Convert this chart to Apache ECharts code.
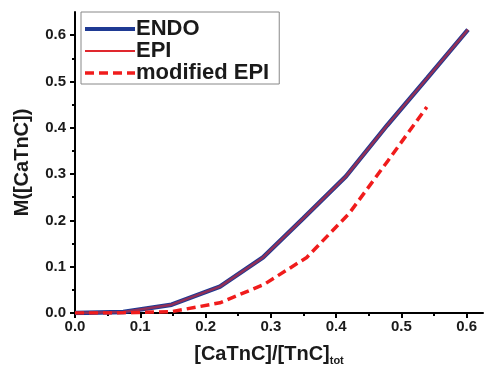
<!DOCTYPE html>
<html>
<head>
<meta charset="utf-8">
<script src="https://cdn.jsdelivr.net/npm/echarts@6/dist/echarts.min.js"></script>
<style>html,body{margin:0;padding:0;background:#fff;}#c{width:484px;height:373px;}</style>
</head>
<body>
<div id="c"></div>
<script>
// Data
var seriesNames = ['ENDO', 'EPI', 'modified EPI'];
var curveX = [0, 0.074, 0.148, 0.222, 0.288, 0.35, 0.415, 0.478, 0.54, 0.602];
var endoY  = [0, 0.002, 0.018, 0.057, 0.12, 0.205, 0.295, 0.405, 0.508, 0.612];
var epiY   = [0, 0.002, 0.018, 0.057, 0.12, 0.205, 0.295, 0.405, 0.508, 0.612];
var modX   = [0, 0.074, 0.148, 0.222, 0.29, 0.355, 0.42, 0.48, 0.539];
var modY   = [0, 0.0003, 0.003, 0.022, 0.062, 0.12, 0.215, 0.33, 0.445];
var xTicks = [0, 0.1, 0.2, 0.3, 0.4, 0.5, 0.6];
var xMinorTicks = [0.05, 0.15, 0.25, 0.35, 0.45, 0.55];
var yTicks = [0, 0.1, 0.2, 0.3, 0.4, 0.5, 0.6];
var yMinorTicks = [0.05, 0.15, 0.25, 0.35, 0.45, 0.55];
var xTitle = '[CaTnC]/[TnC]';
var xTitleSub = 'tot';
var yTitle = 'M([CaTnC])';

function pairs(xs, ys) { return xs.map(function (x, i) { return [x, ys[i]]; }); }

var FONT = 'Liberation Sans, Arial, sans-serif';
var TXT = '#1a1a1a';
var BLUE = '#1f3a93', RED = '#e0282e', DASH = '#f01c1c';

var chart = echarts.init(document.getElementById('c'), null, {renderer: 'canvas'});
var baseX = {
  type: 'value', min: 0, max: 0.625, gridIndex: 0, position: 'bottom',
  splitLine: {show: false}
};
var baseY = {
  type: 'value', min: 0, max: 0.65, gridIndex: 0, position: 'left',
  splitLine: {show: false}
};
chart.setOption({
  animation: false,
  backgroundColor: '#fff',
  grid: {left: 75, right: 1, top: 12, bottom: 60, containLabel: false, outerBoundsMode: 'none'},
  legend: {
    left: 81, top: 12, orient: 'vertical',
    padding: [6, 10, 0, 2], itemGap: 0, itemWidth: 50, itemHeight: 21,
    borderColor: '#888', borderWidth: 1, backgroundColor: '#fff',
    itemStyle: {opacity: 0},
    data: [
      {name: seriesNames[0], lineStyle: {color: BLUE, width: 4, opacity: 1}},
      {name: seriesNames[1], lineStyle: {color: RED, width: 2, opacity: 1}},
      {name: seriesNames[2], lineStyle: {color: DASH, width: 3.5, opacity: 1, type: [9, 5]}}
    ],
    textStyle: {fontSize: 22, fontWeight: 'bold', fontFamily: FONT, color: TXT, padding: [0, 0, 0, -4], lineHeight: 21}
  },
  xAxis: [
    Object.assign({}, baseX, {
      name: '{a|' + xTitle + '}{s|' + xTitleSub + '}',
      nameLocation: 'middle', nameGap: 30,
      nameTextStyle: {
        padding: [0, 20, 0, 0],
        rich: {
          a: {fontSize: 20, fontWeight: 'bold', fontFamily: FONT, color: TXT},
          s: {fontSize: 11, fontWeight: 'bold', fontFamily: FONT, color: TXT, padding: [12, 0, 0, 0]}
        }
      },
      axisLine: {show: true, onZero: false, lineStyle: {color: '#000', width: 2}},
      axisTick: {show: true, customValues: xTicks, length: 5, lineStyle: {color: '#000', width: 2}},
      axisLabel: {show: true, customValues: xTicks, margin: 6, fontSize: 15, fontWeight: 'bold', fontFamily: FONT, color: TXT,
        formatter: function (v) { return v.toFixed(1); }}
    }),
    Object.assign({}, baseX, {
      axisLine: {show: false},
      axisTick: {show: true, customValues: xMinorTicks, length: 3, lineStyle: {color: '#000', width: 2}},
      axisLabel: {show: false}
    })
  ],
  yAxis: [
    Object.assign({}, baseY, {
      name: yTitle, nameLocation: 'middle', nameGap: 43, nameRotate: 90,
      nameTextStyle: {fontSize: 20, fontWeight: 'bold', fontFamily: FONT, color: TXT},
      axisLine: {show: true, onZero: false, lineStyle: {color: '#000', width: 2}},
      axisTick: {show: true, customValues: yTicks, length: 5, lineStyle: {color: '#000', width: 2}},
      axisLabel: {show: true, customValues: yTicks, margin: 9, fontSize: 15, fontWeight: 'bold', fontFamily: FONT, color: TXT,
        formatter: function (v) { return v.toFixed(1); }}
    }),
    Object.assign({}, baseY, {
      axisLine: {show: false},
      axisTick: {show: true, customValues: yMinorTicks, length: 3, lineStyle: {color: '#000', width: 2}},
      axisLabel: {show: false}
    })
  ],
  series: [
    {name: seriesNames[0], type: 'line', xAxisIndex: 0, yAxisIndex: 0, data: pairs(curveX, endoY),
      symbol: 'none', color: BLUE, lineStyle: {color: BLUE, width: 4.5}, z: 2},
    {name: seriesNames[1], type: 'line', xAxisIndex: 0, yAxisIndex: 0, data: pairs(curveX, epiY),
      symbol: 'none', color: RED, lineStyle: {color: RED, width: 2.5, opacity: 0.6}, z: 3},
    {name: seriesNames[2], type: 'line', xAxisIndex: 0, yAxisIndex: 0, data: pairs(modX, modY),
      symbol: 'none', color: DASH, lineStyle: {color: DASH, width: 3.5, type: [9, 5]}, z: 4}
  ]
});
</script>
</body>
</html>
